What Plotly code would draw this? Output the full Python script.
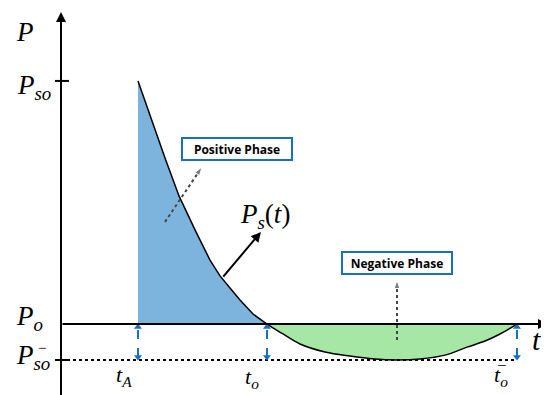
"""Friedlander-type blast pressure diagram: positive / negative phase."""

import plotly.graph_objects as go

# characteristic times and pressures (arbitrary units, P_o = 0)
T_A = 0.77
T_O = 2.06
T_O_NEG = 4.56
P_SO = 1.0
P_SO_NEG = -0.148

# pressure curve
pos_t = [0.77, 0.89, 1.04, 1.18, 1.34, 1.49, 1.59, 1.69, 1.79, 1.92, 2.06]
pos_p = [1.0, 0.856, 0.683, 0.527, 0.387, 0.263, 0.198, 0.148, 0.099, 0.041, 0.0]
neg_t = [2.06, 2.22, 2.39, 2.64, 2.89, 3.14, 3.36, 3.59, 3.84, 4.06, 4.24, 4.39, 4.56]
neg_p = [0.0, -0.041, -0.082, -0.115, -0.132, -0.144, -0.148, -0.144, -0.128,
         -0.095, -0.070, -0.041, 0.0]

BLUE = "#1a6fc4"
MATH = "Liberation Serif"

fig = go.Figure()

# filled phases
fig.add_trace(go.Scatter(x=pos_t + [T_A], y=pos_p + [0.0], fill="toself",
                         fillcolor="#7db4de", mode="lines",
                         line=dict(color="black", width=1.5)))
fig.add_trace(go.Scatter(x=neg_t, y=neg_p, fill="toself", fillcolor="#a6e7a6",
                         mode="lines",
                         line=dict(color="black", width=1.5, shape="spline")))

# dotted P_so- reference line
fig.add_trace(go.Scatter(x=[0, T_O_NEG], y=[P_SO_NEG, P_SO_NEG], mode="lines",
                         line=dict(color="black", width=2, dash="dot")))

# blue dashed double arrows
for tx in [T_A, T_O, T_O_NEG]:
    fig.add_trace(go.Scatter(
        x=[tx, tx], y=[P_SO_NEG + 0.012, -0.012], mode="lines+markers",
        line=dict(color=BLUE, width=2, dash="dash"),
        marker=dict(symbol=["triangle-down", "triangle-up"], size=7, color=BLUE)))

# dotted pointer arrows from the phase boxes
for xs, ys in [([1.04, 1.41], [0.420, 0.646]), ([3.36, 3.36], [-0.066, 0.181])]:
    fig.add_trace(go.Scatter(
        x=xs, y=ys, mode="lines+markers",
        line=dict(color="#444444", width=2, dash="dot"),
        marker=dict(symbol=["circle", "arrow"], size=[0, 9], angleref="previous",
                    color="#444444")))

# axes with arrows
arrows = [
    (0, -0.30, 0, 1.284),        # P axis
    (0, 0, 4.87, 0),             # t axis
    (1.61, 0.189, 2.00, 0.379),  # P_s(t) pointer
]
for x0, y0, x1, y1 in arrows:
    fig.add_annotation(x=x1, y=y1, ax=x0, ay=y0, xref="x", yref="y",
                       axref="x", ayref="y", text="", showarrow=True,
                       arrowhead=2, arrowsize=1, arrowwidth=2, arrowcolor="black")

# axis ticks
for py in [P_SO, P_SO_NEG]:
    fig.add_shape(type="line", x0=-0.06, x1=0.08, y0=py, y1=py,
                  line=dict(color="black", width=2))

labels = [
    (-0.36, 1.20, "<i>P</i>", 27),
    (-0.27, 0.975, "<i>P</i><sub><i>so</i></sub>", 27),
    (-0.32, 0.025, "<i>P</i><sub><i>o</i></sub>", 27),
    (-0.28, -0.135, "<i>P</i><sub><i>so</i></sub>", 27),
    (-0.19, -0.100, "−", 15),
    (0.63, -0.215, "<i>t</i><sub><i>A</i></sub>", 22),
    (1.91, -0.22, "<i>t</i><sub><i>o</i></sub>", 22),
    (4.40, -0.215, "<i>t</i><sub><i>o</i></sub>", 22),
    (4.41, -0.172, "−", 17),
    (4.75, -0.065, "<i>t</i>", 30),
    (2.04, 0.445, "<i>P</i><sub><i>s</i></sub>(<i>t</i>)", 27),
]
for lx, ly, txt, size in labels:
    fig.add_annotation(x=lx, y=ly, text=txt, showarrow=False,
                       font=dict(family=MATH, size=size, color="black"))

# phase boxes
for bx, by, txt in [(1.76, 0.72, "Positive Phase"), (3.36, 0.251, "Negative Phase")]:
    fig.add_annotation(x=bx, y=by, text="<b>" + txt + "</b>", showarrow=False,
                       width=104, height=16, borderpad=2, borderwidth=2,
                       bordercolor=BLUE, bgcolor="white",
                       font=dict(family="Open Sans", size=12, color="black"))

# the page body adds an 8px margin, so the figure covers page pixels 8..549 / 8..395
fig.update_layout(
    width=541, height=387, margin=dict(l=0, r=0, t=0, b=0),
    showlegend=False, plot_bgcolor="white", paper_bgcolor="white",
    xaxis=dict(range=[-0.53, 4.88], visible=False, fixedrange=True),
    yaxis=dict(range=[-0.292, 1.300], visible=False, fixedrange=True),
)

fig.write_html("out.html")
